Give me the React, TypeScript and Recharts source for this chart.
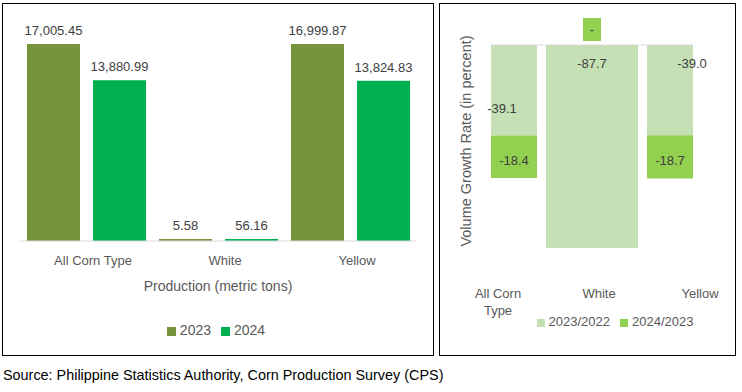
import React from "react";
import { Bar, BarChart, LabelList, Legend, ReferenceLine, Text, XAxis, YAxis } from "recharts";

const categories = ["All Corn Type", "White", "Yellow"];
const production2023 = [17005.45, 5.58, 16999.87];
const production2024 = [13880.99, 56.16, 13824.83];
const growth2023 = [-39.1, -87.7, -39.0];
const growth2024: (number | null)[] = [-18.4, null, -18.7];

const productionData = categories.map((category, i) => ({
  category,
  y2023: production2023[i],
  y2024: production2024[i]
}));

const growthData = categories.map((category, i) => ({
  category,
  g2023: growth2023[i],
  g2024: growth2024[i]
}));

const font = '"Liberation Sans", Arial, sans-serif';
const olive = "#77933C";
const green = "#00B050";
const paleGreen = "#C5E0B4";
const limeGreen = "#92D050";
const labelGrey = "#404040";
const axisGrey = "#595959";

// the excel source placed a couple of the 2023/2022 labels by hand
const lightLabelNudge: Record<string, [number, number]> = {
  "All Corn Type": [-12, 45],
  Yellow: [22, 0]
};

const fmtTons = (v: number) => v.toLocaleString("en-US", { minimumFractionDigits: 2, maximumFractionDigits: 2 });

function WideWhiteBar(props: any) {
  const { x, y, width, height, fill, payload } = props;
  const w = payload.category === "White" ? width * 2 : width;
  const top = Math.min(y, y + height);
  return <rect x={x + width / 2 - w / 2} y={top} width={w} height={Math.abs(height)} fill={fill} />;
}

function lightLabel(props: any) {
  const { x, y, width, height, value, index } = props;
  const [dx, dy] = lightLabelNudge[categories[index]] ?? [0, 0];
  const top = Math.min(y, y + height);
  const cx = x + width / 2;
  return (
    <g>
      <text x={cx + dx} y={top + 18 + dy} textAnchor="middle" dominantBaseline="central" fontSize={13} fill={labelGrey} fontFamily={font}>
        {value.toFixed(1)}
      </text>
      {growth2024[index] == null && (
        <g>
          <rect x={cx - 9} y={top - 27} width={18} height={23} fill={limeGreen} />
          <text x={cx} y={top - 16} textAnchor="middle" dominantBaseline="central" fontSize={13} fill={labelGrey} fontFamily={font}>
            -
          </text>
        </g>
      )}
    </g>
  );
}

function darkLabel(props: any) {
  const { x, y, width, height, value } = props;
  if (value == null) return null;
  return (
    <text x={x + width / 2} y={y + height / 2 + 4} textAnchor="middle" dominantBaseline="central" fontSize={13} fill={labelGrey} fontFamily={font}>
      {value.toFixed(1)}
    </text>
  );
}

function GrowthTick(props: any) {
  const { x, y, payload } = props;
  return (
    <Text x={x} y={y} width={75} lineHeight={17} textAnchor="middle" verticalAnchor="start" fontSize={13} fill={axisGrey} fontFamily={font}>
      {payload.value}
    </Text>
  );
}

function ProductionTick(props: any) {
  const { x, y, payload } = props;
  return (
    <text x={x + 7} y={y} textAnchor="middle" dominantBaseline="hanging" fontSize={13} fill={axisGrey} fontFamily={font}>
      {payload.value}
    </text>
  );
}

function ProductionChart() {
  return (
    <BarChart width={436} height={356} data={productionData} margin={{ top: 44, right: 20, bottom: 55, left: 20 }} barSize={53} barGap={13}>
      <XAxis
        dataKey="category"
        height={60}
        tickLine={false}
        tickMargin={8}
        axisLine={{ stroke: "#D9D9D9" }}
        tick={<ProductionTick />}
        label={{ value: "Production (metric tons)", position: "insideBottom", offset: 10, fontSize: 14, fill: axisGrey, fontFamily: font }}
      />
      <YAxis hide domain={[0, "dataMax"]} />
      <Legend
        layout="horizontal"
        verticalAlign="middle"
        align="center"
        iconType="square"
        iconSize={9}
        wrapperStyle={{ top: 322, left: 3, width: 436, fontSize: 14, fontFamily: font }}
        formatter={(v) => <span style={{ color: axisGrey }}>{v}</span>}
      />
      <Bar dataKey="y2023" name="2023" fill={olive} minPointSize={2} isAnimationActive={false}>
        <LabelList dataKey="y2023" position="top" offset={9} formatter={fmtTons} fontSize={13} fill={labelGrey} fontFamily={font} />
      </Bar>
      <Bar dataKey="y2024" name="2024" fill={green} minPointSize={2} isAnimationActive={false}>
        <LabelList dataKey="y2024" position="top" offset={9} formatter={fmtTons} fontSize={13} fill={labelGrey} fontFamily={font} />
      </Bar>
    </BarChart>
  );
}

function GrowthChart() {
  return (
    <BarChart width={300} height={356} data={growthData} stackOffset="sign" margin={{ top: 45, right: 48, bottom: 39.5, left: 17 }} barSize={46}>
      <XAxis xAxisId="bars" dataKey="category" hide height={0} padding={{ left: -16, right: -17 }} />
      <XAxis
        xAxisId="labels"
        dataKey="category"
        height={40}
        padding={{ left: -43.5, right: -58.5 }}
        axisLine={false}
        tickLine={false}
        tickSize={0}
        tickMargin={12}
        tick={<GrowthTick />}
      />
      <YAxis
        domain={[-100, 0]}
        width={34}
        tick={false}
        axisLine={false}
        tickLine={false}
        label={{
          content: (p: any) => {
            const vb = p.viewBox;
            const lx = vb.x + 9;
            const ly = 141;
            return (
              <text x={lx} y={ly} transform={`rotate(-90, ${lx}, ${ly})`} textAnchor="middle" dominantBaseline="central" fontSize={14.5} fill={axisGrey} fontFamily={font}>
                Volume Growth Rate (in percent)
              </text>
            );
          }
        }}
      />
      <ReferenceLine xAxisId="bars" y={0} stroke="#D9D9D9" />
      <Legend
        layout="horizontal"
        verticalAlign="middle"
        align="center"
        iconType="square"
        iconSize={8}
        wrapperStyle={{ top: 314, left: 84, width: 192, fontSize: 13, fontFamily: font }}
        formatter={(v) => <span style={{ color: axisGrey }}>{v}</span>}
      />
      <Bar xAxisId="bars" dataKey="g2023" name="2023/2022" stackId="g" fill={paleGreen} shape={<WideWhiteBar />} isAnimationActive={false}>
        <LabelList dataKey="g2023" content={lightLabel} />
      </Bar>
      <Bar xAxisId="bars" dataKey="g2024" name="2024/2023" stackId="g" fill={limeGreen} isAnimationActive={false}>
        <LabelList dataKey="g2024" content={darkLabel} />
      </Bar>
    </BarChart>
  );
}

export default function App() {
  return (
    <div style={{ position: "absolute", left: 0, top: 0, width: 742, height: 392, background: "#fff", fontFamily: font, overflow: "hidden" }}>
      <div style={{ position: "absolute", left: 2, top: 3, width: 432, height: 353, border: "1px solid #000", boxSizing: "border-box" }} />
      <div style={{ position: "absolute", left: 439, top: 3, width: 297, height: 353, border: "1px solid #000", boxSizing: "border-box" }} />
      <div style={{ position: "absolute", left: 0, top: 0 }}>
        <ProductionChart />
      </div>
      <div style={{ position: "absolute", left: 440, top: 0 }}>
        <GrowthChart />
      </div>
      <div style={{ position: "absolute", left: 3, top: 367, fontSize: 14.4, color: "#000", whiteSpace: "nowrap" }}>
        Source: Philippine Statistics Authority, Corn Production Survey (CPS)
      </div>
    </div>
  );
}
